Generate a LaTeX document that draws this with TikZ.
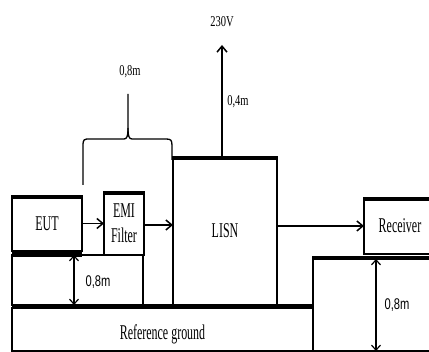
\documentclass[tikz,border=0pt]{standalone}
\usepackage{fontspec}
\usetikzlibrary{arrows.meta}
\newfontfamily\condserif[FakeStretch=0.57]{Liberation Serif}
\newfontfamily\condlab[FakeStretch=0.7]{Liberation Serif}
\newfontfamily\condsans[FakeStretch=0.72]{Liberation Sans}

\begin{document}
\begin{tikzpicture}[x=1pt, y=-1pt,
    bx/.style={draw, line width=1.8pt, inner sep=0pt, outer sep=0pt, align=center,
               font=\condserif\fontsize{21}{25}\selectfont},
    bar/.style={line width=4.5pt},
    con/.style={line width=1.5pt, -{Straight Barb[length=6pt, width=10pt]}},
    dm/.style={line width=1.2pt, {Straight Barb[length=5pt, width=9pt]}-{Straight Barb[length=5pt, width=9pt]}},
    lb/.style={font=\condlab\fontsize{15}{16}\selectfont, inner sep=0pt},
    sl/.style={font=\condsans\fontsize{15.5}{16}\selectfont, inner sep=0pt}]
    \clip (0,0) rectangle (429,352);
    \fill[white] (0,0) rectangle (429,352);
    % tables and ground
    \node[bx, minimum width=301pt, minimum height=43pt, text height=20pt, text depth=0pt]
        (gnd) at (162.5,329.5) {Reference ground};
    \node[bx, minimum width=131pt, minimum height=50pt] (tabL) at (77.5,280) {};
    \node[bx, minimum width=123pt, minimum height=94pt] (tabR) at (374.5,304) {};
    % equipment
    \node[bx, minimum width=70pt, minimum height=55pt]  (eut)  at (47,223.5)  {EUT};
    \node[bx, minimum width=40pt, minimum height=63pt]  (emi)  at (124,223.5) {EMI\\Filter};
    \node[bx, minimum width=104pt, minimum height=148pt] (lisn) at (225,231)  {LISN};
    \node[bx, minimum width=72pt, minimum height=56pt]  (rx)   at (400,226)   {Receiver};
    % thick top edges
    \draw[bar] (gnd.north west) ++(0,-1.5) -- ++(301,0);
    \draw[bar, line width=6pt] (12,254.5) -- (82,254.5);
    \draw[bar] (tabR.north west) ++(0,1) -- ++(123,0);
    \draw[bar] (eut.north west) ++(0,1) -- ++(70,0);
    \draw[bar] (emi.north west) ++(0,1) -- ++(40,0);
    \draw[bar] (lisn.north west) ++(0,1) -- ++(104,0);
    \draw[bar] (rx.north west) ++(0,1) -- ++(72,0);
    % signal path
    \draw[con] (eut.east) -- (eut.east -| emi.west);
    \draw[con] (emi.east) ++(0,1.5) coordinate (emiout) -- (emiout -| lisn.west);
    \draw[con] (rx.west -| lisn.east) -- (rx.west);
    % mains
    \coordinate (vtip) at (222,45);
    \node[lb] (vlab) at (222,22) {230V};
    \draw[con] (lisn.north -| vtip) -- (vtip);
    \node[lb] (d04) at (238,102) {0,4m};
    % spacing brace
    \draw[line width=1.3pt] (83,185) -- (83,146) .. controls (83,139) and (84,139) .. (90,139)
        -- (124,139) .. controls (127,139) and (128,136) .. (128,128) -- (128,94);
    \draw[line width=1.3pt] (128,128) .. controls (128,136) and (129,139) .. (132,139)
        -- (166,139) .. controls (171,139) and (172,140) .. (172,146) -- (172,160);
    \node[lb] (d08) at (130,72) {0,8m};
    % table heights
    \coordinate (hl) at (74,0);
    \draw[dm] (hl |- tabL.north) -- (hl |- tabL.south);
    \node[sl] (hlab) at (98,282) {0,8m};
    \coordinate (hr) at (376,0);
    \draw[dm] (hr |- tabR.north) ++(0,2) coordinate (hrtop) -- (hr |- tabR.south);
    \node[sl] (hrlab) at (397,305) {0,8m};
\end{tikzpicture}
\end{document}
